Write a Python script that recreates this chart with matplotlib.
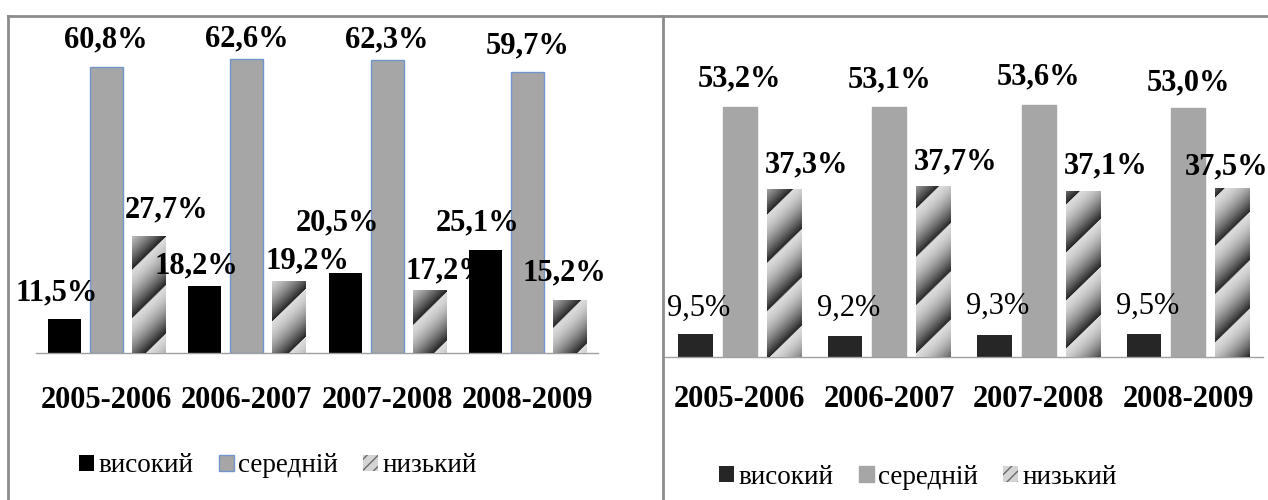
import numpy as np
import matplotlib.pyplot as plt
from matplotlib.patches import Patch
from matplotlib.lines import Line2D

plt.rcParams['font.family'] = ['Liberation Serif', 'DejaVu Serif']

years = ['2005-2006', '2006-2007', '2007-2008', '2008-2009']
series_names = ['високий', 'середній', 'низький']

# bar heights as drawn in the picture (printed labels do not always match)
left_high = [7.2, 14.3, 17.0, 21.9]
left_mid = [60.8, 62.6, 62.3, 59.7]
left_low = [24.7, 15.3, 13.2, 11.1]
left_high_labels = ['11,5%', '18,2%', '20,5%', '25,1%']
left_mid_labels = ['60,8%', '62,6%', '62,3%', '59,7%']
left_low_labels = ['27,7%', '19,2%', '17,2%', '15,2%']

right_high = [5.0, 4.5, 4.7, 5.0]
right_mid = [53.2, 53.1, 53.6, 53.0]
right_low = [35.6, 36.2, 35.3, 35.8]
right_high_labels = ['9,5%', '9,2%', '9,3%', '9,5%']
right_mid_labels = ['53,2%', '53,1%', '53,6%', '53,0%']
right_low_labels = ['37,3%', '37,7%', '37,1%', '37,5%']

W, H = 1268, 500
GRAY = '#a6a6a6'
PX = 4.7  # pixels per percent


def stripe_fill(ax, bar, period=48):
    """Paint a bar with repeating diagonal gradient stripes."""
    x0, y0 = bar.get_x(), bar.get_y()
    x1, y1 = x0 + bar.get_width(), y0 + bar.get_height()
    (px0, py0), (px1, py1) = ax.transData.transform([(x0, y0), (x1, y1)])
    w = max(int(round(px1 - px0)), 1)
    h = max(int(round(py1 - py0)), 1)
    rows, cols = np.mgrid[0:h, 0:w]
    phase = ((cols + px0 - (h - rows)) % period) / period
    v = 0.86 - 0.72 * phase ** 1.6
    ax.imshow(v, cmap='gray', vmin=0, vmax=1, extent=(x0, x1, y0, y1),
              origin='upper', aspect='auto', interpolation='bilinear', zorder=3)


def draw_panel(rect, high, mid, low, labels, styles, pad):
    ax = fig.add_axes(rect)
    x = np.arange(len(years))
    off, bw = styles['offset'], styles['width']
    ax.set_xlim(-0.5, len(years) - 0.5)
    ax.set_ylim(0, 70)

    b_high = ax.bar(x - off, high, bw, color=styles['high'], zorder=2)
    b_mid = ax.bar(x, mid, bw, color=GRAY, edgecolor=styles['mid_edge'],
                   linewidth=1.0, zorder=2)
    b_low = ax.bar(x + off, low, bw, color='white', zorder=2)
    for bar in b_low:
        stripe_fill(ax, bar)

    # data labels, about 24 px above the bar tops
    for k, (bars, labs) in enumerate(zip([b_high, b_mid, b_low], labels)):
        lift = styles['lift'][k]
        for i, (bar, lab) in enumerate(zip(bars, labs)):
            cx = bar.get_x() + bar.get_width() / 2 + styles['label_dx'][k]
            cx = min(cx, len(years) - 0.74)
            cy = bar.get_height() + (24 + lift[i]) / PX
            ax.text(cx, cy, lab, ha='center', va='center', fontsize=22,
                    fontweight=styles['weights'][k], zorder=5)

    ax.set_xticks(x, years, fontsize=22, fontweight='bold')
    ax.tick_params(axis='x', length=0, pad=pad)
    ax.set_yticks([])
    for s in ['top', 'left', 'right']:
        ax.spines[s].set_visible(False)
    ax.spines['bottom'].set_color('#a0a0a0')
    ax.spines['bottom'].set_linewidth(1.0)
    ax.set_xlim(-0.5, len(years) - 0.5)
    ax.set_ylim(0, 70)
    return ax


fig = plt.figure(figsize=(W / 100, H / 100), dpi=100)

left_styles = dict(offset=0.30, width=0.235, high='black', mid_edge='#6f95c9',
                   label_dx=[-0.055, 0.0, 0.13], weights=['bold', 'bold', 'bold'],
                   lift=[[2, -4, 26, 3], [3, -4, -4, 3], [3, -4, -4, 4]])
right_styles = dict(offset=0.295, width=0.23, high='#262626', mid_edge=GRAY,
                    label_dx=[0.02, 0.0, 0.15], weights=['normal', 'bold', 'bold'],
                    lift=[[1, 4, 5, 3], [4, 4, 4, 1], [1, 1, 1, -2]])

draw_panel([36 / W, (H - 353) / H, 562 / W, 329 / H],
           left_high, left_mid, left_low,
           [left_high_labels, left_mid_labels, left_low_labels], left_styles, 23.5)
draw_panel([665 / W, (H - 357) / H, 598 / W, 329 / H],
           right_high, right_mid, right_low,
           [right_high_labels, right_mid_labels, right_low_labels], right_styles, 20.5)

# legends
for (lx, ly), black, edge in [((278 / W, 34 / H), 'black', '#6f95c9'),
                              ((918 / W, 23 / H), '#262626', GRAY)]:
    handles = [Patch(facecolor=black, edgecolor=black, linewidth=0),
               Patch(facecolor=GRAY, edgecolor=edge, linewidth=1.0),
               Patch(facecolor='#d4d4d4', edgecolor='#6a6a6a', hatch='///', linewidth=0)]
    fig.legend(handles, series_names, loc='center', bbox_to_anchor=(lx, ly),
               ncol=3, frameon=False, fontsize=19.5, handlelength=0.55,
               handleheight=0.55, handletextpad=0.15, columnspacing=0.95)

# panel frames
frame = dict(transform=fig.transFigure, color='#8c8c8c', linewidth=2.0)
fig.add_artist(Line2D([8 / W, 8 / W], [0, 1 - 16 / H], **frame))
fig.add_artist(Line2D([663 / W, 663 / W], [0, 1 - 16 / H], **frame))
fig.add_artist(Line2D([8 / W, 1], [1 - 16 / H, 1 - 16 / H], **frame))

fig.savefig('out.png', dpi=100)
